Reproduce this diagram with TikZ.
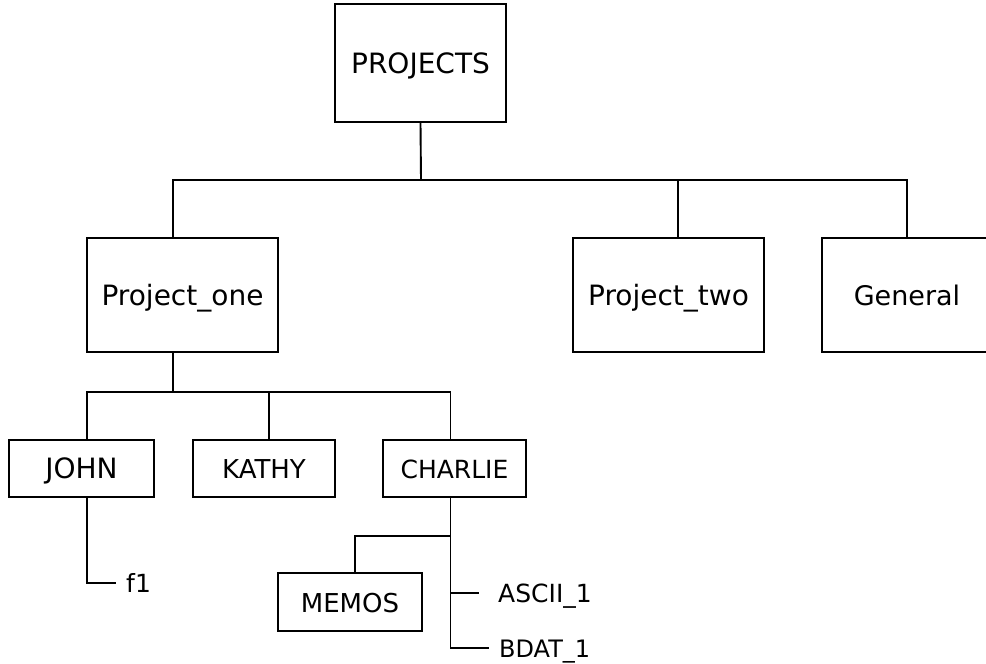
\documentclass[tikz,border=0pt]{standalone}
\usepackage{fontspec}
\setmainfont{DejaVu Sans}
\begin{document}
\begin{tikzpicture}[x=1pt,y=-1pt,
  dirbox/.style={draw, line width=1.9pt, rectangle, inner sep=0pt,
    font=\fontsize{28}{28}\selectfont, text height=20pt, text depth=0pt},
  leaf/.style={anchor=west, inner xsep=10pt, inner ysep=0pt,
    font=\fontsize{25}{25}\selectfont, text height=18pt, text depth=0pt},
  wire/.style={line width=1.9pt}]
\useasboundingbox (0,0) rectangle (986,664);
\clip (0,0) rectangle (986,664);

% top level directory
\node[dirbox, minimum width=171, minimum height=118] (projects) at (420.5,63) {PROJECTS};

% second level
\node[dirbox, minimum width=191, minimum height=114] (pone) at (182.5,295) {Project\_one};
\node[dirbox, minimum width=191, minimum height=114] (ptwo) at (668.5,295) {Project\_two};
\node[dirbox, minimum width=170, minimum height=114, font=\fontsize{27}{27}\selectfont] (general) at (907,295) {General};

% users under Project_one
\node[dirbox, minimum width=145, minimum height=57] (john) at (81.5,468.5) {JOHN};
\node[dirbox, minimum width=142, minimum height=57, font=\fontsize{26}{26}\selectfont] (kathy) at (264,468.5) {KATHY};
\node[dirbox, minimum width=143, minimum height=57, font=\fontsize{25}{25}\selectfont] (charlie) at (454.5,468.5) {CHARLIE};

% contents of CHARLIE
\node[dirbox, minimum width=144, minimum height=58, font=\fontsize{26}{26}\selectfont] (memos) at (350,602) {MEMOS};
\node[leaf, inner xsep=19pt] (ascii) at (479,593) {ASCII\_1};
\node[leaf, font=\fontsize{24}{24}\selectfont] (bdat) at (489,648) {BDAT\_1};

% file under JOHN
\node[leaf] (fone) at (116,583) {f1};

% bus junctions
\coordinate (busa) at (421,180);
\coordinate (busb) at (173,392);
\coordinate (busc) at (450.5,536);

% connectors
\draw[wire] (projects.south) -- (busa);
\draw[wire] ([xshift=-9.5pt]pone.north) |- (busa) -| ([xshift=9.5pt]ptwo.north);
\draw[wire] (busa) -| (general.north);

\draw[wire] ([xshift=-9.5pt]pone.south) -- (busb);
\draw[wire] ([xshift=5.5pt]john.north) |- (busb) -| ([xshift=-4pt]charlie.north);
\draw[wire] (busb) -| ([xshift=5pt]kathy.north);

\draw[wire] ([xshift=5.5pt]john.south) |- (fone.west);

\draw[wire] ([xshift=-4pt]charlie.south) -- (busc);
\draw[wire] (busc) -| ([xshift=5pt]memos.north);
\draw[wire] (busc) |- (bdat.west);
\draw[wire] (ascii.west -| busc) -- (ascii.west);
\end{tikzpicture}
\end{document}
